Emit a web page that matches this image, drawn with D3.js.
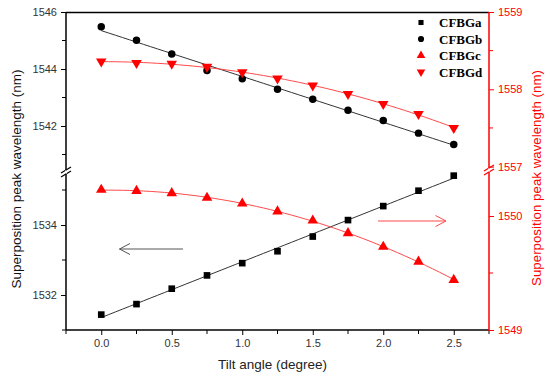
<!DOCTYPE html>
<html><head><meta charset="utf-8">
<script src="https://cdn.jsdelivr.net/npm/d3@7"></script>
<style>body{margin:0;background:#fff}svg{display:block}</style>
</head><body>
<svg id="c" width="550" height="380"></svg>
<script>
const tilt = [0, 0.25, 0.5, 0.75, 1.0, 1.25, 1.5, 1.75, 2.0, 2.25, 2.5];
const cfbgA = [1531.44, 1531.74, 1532.18, 1532.56, 1532.91, 1533.25, 1533.67, 1534.14, 1534.54, 1534.98, 1535.41];
const cfbgB = [1545.48, 1545.01, 1544.53, 1543.95, 1543.66, 1543.29, 1542.94, 1542.55, 1542.19, 1541.75, 1541.35];
const cfbgC = [1550.23, 1550.22, 1550.20, 1550.16, 1550.11, 1550.04, 1549.96, 1549.85, 1549.73, 1549.60, 1549.44];
const cfbgD = [1558.36, 1558.34, 1558.33, 1558.29, 1558.22, 1558.14, 1558.05, 1557.94, 1557.81, 1557.68, 1557.50];
const seriesNames = ["CFBGa", "CFBGb", "CFBGc", "CFBGd"];
const xTicks = [0, 0.5, 1.0, 1.5, 2.0, 2.5];
const leftTopTicks = [1542, 1544, 1546];
const leftBotTicks = [1532, 1534];
const rightTopTicks = [1557, 1558, 1559];
const rightBotTicks = [1549, 1550];

const svg = d3.select("#c");
const L = 66, R = 489, T = 12, B = 330;
const RED = "#ff0000", LRED = "#ff4a4a", INK = "#000";

const x = d3.scaleLinear().domain([-0.25, 2.75]).range([L, R]);
const yLT = d3.scaleLinear().domain([1542, 1546]).range([126, 12]);
const yLB = d3.scaleLinear().domain([1532, 1534]).range([295, 225]);
const yRT = d3.scaleLinear().domain([1558, 1559]).range([89.3, 12]);
const yRB = d3.scaleLinear().domain([1549, 1550]).range([330, 216]);

// frame
svg.append("line").attr("x1", L).attr("x2", R).attr("y1", T + 0.5).attr("y2", T + 0.5).attr("stroke", INK).attr("stroke-width", 1.5);
svg.append("line").attr("x1", L).attr("x2", L).attr("y1", T).attr("y2", B).attr("stroke", INK).attr("stroke-width", 1.5);

const tickFont = "Liberation Sans, Arial, sans-serif";

// X axis
const xAx = svg.append("g").attr("transform", `translate(0,${B})`)
  .call(d3.axisBottom(x).tickValues(xTicks).tickSize(5).tickPadding(4).tickFormat(d3.format(".1f")));
xAx.select(".domain").attr("stroke-width", 1.5).attr("d", `M${L},0H${R}`);
xAx.selectAll("text").attr("font-family", tickFont).attr("font-size", 11).attr("fill", "#333");
xAx.append("g").selectAll("line").data(d3.range(-0.25, 2.76, 0.5)).join("line")
  .attr("x1", d => x(d)).attr("x2", d => x(d)).attr("y1", 0).attr("y2", 4).attr("stroke", INK);

function leftAxis(scale, major, minor) {
  const g = svg.append("g").attr("transform", `translate(${L},0)`)
    .call(d3.axisLeft(scale).tickValues(major).tickSize(5).tickPadding(4).tickFormat(d3.format("d")));
  g.select(".domain").remove();
  g.selectAll("text").attr("font-family", tickFont).attr("font-size", 11).attr("fill", "#333");
  g.append("g").selectAll("line").data(minor).join("line")
    .attr("x1", 0).attr("x2", -4).attr("y1", d => scale(d)).attr("y2", d => scale(d)).attr("stroke", INK);
}
leftAxis(yLT, leftTopTicks, [1541, 1543, 1545]);
leftAxis(yLB, leftBotTicks, [1531, 1533, 1535]);

function rightAxis(scale, major, minor) {
  const g = svg.append("g").attr("transform", `translate(${R},0)`)
    .call(d3.axisRight(scale).tickValues(major).tickSize(5).tickPadding(4).tickFormat(d3.format("d")));
  g.select(".domain").remove();
  g.selectAll("line").attr("stroke", RED);
  g.selectAll("text").attr("font-family", tickFont).attr("font-size", 11).attr("fill", RED);
  g.append("g").selectAll("line").data(minor).join("line")
    .attr("x1", 0).attr("x2", 4).attr("y1", d => scale(d)).attr("y2", d => scale(d)).attr("stroke", RED);
}
rightAxis(yRT, rightTopTicks, [1557.5, 1558.5]);
rightAxis(yRB, rightBotTicks, [1549.5]);
svg.append("line").attr("x1", R).attr("x2", R).attr("y1", T).attr("y2", B + 1).attr("stroke", RED).attr("stroke-width", 1.5);

// break marks
function brk(cx, cy, col) {
  [-2, 2].forEach(o => {
    svg.append("line").attr("x1", cx - 5).attr("y1", cy + o + 3).attr("x2", cx + 5).attr("y2", cy + o - 3)
      .attr("stroke", col).attr("stroke-width", 1.3);
  });
  svg.append("rect").attr("x", cx - 1).attr("y", cy - 1.5).attr("width", 2).attr("height", 3).attr("fill", "#fff");
}
brk(L, 172, INK);
brk(R, 170, RED);

// fits
function polyfit(xs, ys, deg) {
  const n = deg + 1;
  const A = Array.from({length: n}, () => new Array(n + 1).fill(0));
  xs.forEach((xv, k) => {
    for (let i = 0; i < n; i++) {
      for (let j = 0; j < n; j++) A[i][j] += Math.pow(xv, i + j);
      A[i][n] += ys[k] * Math.pow(xv, i);
    }
  });
  for (let i = 0; i < n; i++) {
    let p = i;
    for (let r = i + 1; r < n; r++) if (Math.abs(A[r][i]) > Math.abs(A[p][i])) p = r;
    [A[i], A[p]] = [A[p], A[i]];
    for (let r = 0; r < n; r++) if (r !== i) {
      const f = A[r][i] / A[i][i];
      for (let c = i; c <= n; c++) A[r][c] -= f * A[i][c];
    }
  }
  const c = A.map((row, i) => row[n] / row[i]);
  return xv => c.reduce((s, ci, i) => s + ci * Math.pow(xv, i), 0);
}
const fitXs = d3.range(0, 2.5001, 0.05);
function fitLine(vals, scale, deg, col) {
  const f = polyfit(tilt, vals, deg);
  svg.append("path").datum(fitXs)
    .attr("d", d3.line().x(d => x(d)).y(d => scale(f(d))))
    .attr("fill", "none").attr("stroke", col).attr("stroke-width", 1);
}
fitLine(cfbgA, yLB, 1, "#333");
fitLine(cfbgB, yLT, 1, "#333");
fitLine(cfbgC, yRB, 2, LRED);
fitLine(cfbgD, yRT, 2, LRED);

// markers
const sq = d3.symbol().type(d3.symbolSquare).size(44);
const ci = d3.symbol().type(d3.symbolCircle).size(44);
const tri = d3.symbol().type(d3.symbolTriangle).size(48);
function markers(vals, scale, sym, col, rot) {
  svg.append("g").selectAll("path").data(tilt).join("path")
    .attr("d", sym).attr("fill", col)
    .attr("transform", (d, i) => `translate(${x(d)},${scale(vals[i])})${rot ? " rotate(180)" : ""}`);
}
markers(cfbgA, yLB, sq, INK, false);
markers(cfbgB, yLT, ci, INK, false);
markers(cfbgC, yRB, tri, RED, false);
markers(cfbgD, yRT, tri, RED, true);

// arrows
svg.append("path").attr("d", "M183,249H119.5M130,243.5L119.5,249L130,254.5").attr("fill", "none").attr("stroke", "#555").attr("stroke-width", 1);
svg.append("path").attr("d", "M378,221H446M435.5,215.5L446,221L435.5,226.5").attr("fill", "none").attr("stroke", LRED).attr("stroke-width", 1);

// legend
const lsq = d3.symbol().type(d3.symbolSquare).size(26);
const lci = d3.symbol().type(d3.symbolCircle).size(30);
const ltri = d3.symbol().type(d3.symbolTriangle).size(32);
const legSyms = [[lsq, INK, false], [lci, INK, false], [ltri, RED, false], [ltri, RED, true]];
const lg = svg.append("g");
seriesNames.forEach((name, i) => {
  const yy = 22.5 + i * 16.5;
  lg.append("path").attr("d", legSyms[i][0]).attr("fill", legSyms[i][1])
    .attr("transform", `translate(421,${yy})${legSyms[i][2] ? " rotate(180)" : ""}`);
  lg.append("text").attr("x", 439).attr("y", yy + 4.5).text(name)
    .attr("font-family", "Liberation Serif, Times New Roman, serif").attr("font-weight", "bold").attr("font-size", 13);
});

// axis titles
svg.append("text").attr("x", (L + R) / 2 - 5).attr("y", 369).attr("text-anchor", "middle")
  .attr("font-family", tickFont).attr("font-size", 13.5).attr("fill", "#222").text("Tilt angle (degree)");
svg.append("text").attr("transform", "translate(21,179) rotate(-90)").attr("text-anchor", "middle")
  .attr("font-family", tickFont).attr("font-size", 13.5).attr("fill", "#111").text("Superposition peak wavelength (nm)");
svg.append("text").attr("transform", "translate(541,178) rotate(-90)").attr("text-anchor", "middle")
  .attr("font-family", tickFont).attr("font-size", 13.3).attr("fill", RED).text("Superposition peak wavelength (nm)");
</script>
</body></html>
